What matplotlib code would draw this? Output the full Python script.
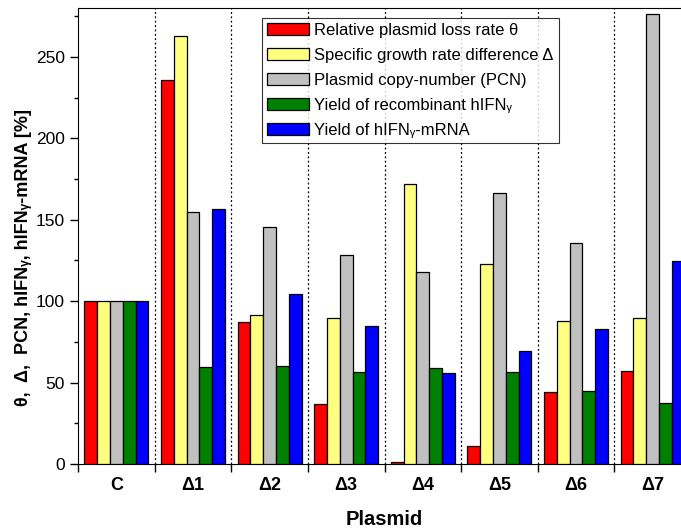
import numpy as np
import matplotlib
matplotlib.use("Agg")
import matplotlib.pyplot as plt
from matplotlib.ticker import MultipleLocator, FixedLocator

plt.rcParams["font.family"] = ["Liberation Sans", "DejaVu Sans"]

# данные
plasmids = ["C", "Δ1", "Δ2", "Δ3", "Δ4", "Δ5", "Δ6", "Δ7"]
loss_rate = [100, 236, 87, 36.6, 1.2, 11.3, 44.2, 57.3]
growth_diff = [100, 263, 91.3, 89.9, 171.8, 122.8, 88, 89.5]
pcn = [100, 155, 145.8, 128.3, 117.9, 166.5, 136, 276.5]
yield_ifn = [100, 59.8, 60.2, 56.7, 59, 56.7, 45, 37.5]
yield_mrna = [100, 156.8, 104.4, 85, 55.7, 69.4, 82.9, 124.9]

series = [
    (loss_rate, "#FF0000", "Relative plasmid loss rate θ"),
    (growth_diff, "#FFFF80", "Specific growth rate difference Δ"),
    (pcn, "#C0C0C0", "Plasmid copy-number (PCN)"),
    (yield_ifn, "#008000", "Yield of recombinant hIFNᵧ"),
    (yield_mrna, "#0000FF", "Yield of hIFNᵧ-mRNA"),
]

fig = plt.figure(figsize=(6.81, 5.31), dpi=100)
ax = fig.add_axes([78 / 681, 67 / 531, (691 - 78) / 681, 456 / 531])

x = np.arange(len(plasmids))
w = 0.167
for i, (vals, col, lab) in enumerate(series):
    ax.bar(x + (i - 2) * w, vals, w, color=col, edgecolor="black", linewidth=0.9, label=lab, zorder=3)

for b in np.arange(0.5, len(plasmids) - 0.5):
    ax.axvline(b, color="black", ls=(0, (1.5, 2)), lw=0.9, zorder=1)

ax.set_xlim(-0.5, len(plasmids) - 0.5)
ax.set_ylim(0, 280)
ax.yaxis.set_minor_locator(MultipleLocator(25))
ax.set_yticks([0, 50, 100, 150, 200, 250])
ax.xaxis.set_major_locator(FixedLocator(np.arange(-0.5, len(plasmids))))
ax.xaxis.set_major_formatter(plt.NullFormatter())
ax.set_xticks(x, minor=True)
ax.set_xticklabels(plasmids, minor=True, fontsize=13, fontweight="bold")
ax.tick_params(axis="x", which="major", direction="out", length=6, width=1)
ax.tick_params(axis="x", which="minor", length=0, pad=9)
ax.tick_params(axis="y", which="major", direction="out", length=6, width=1, labelsize=12.5)
ax.tick_params(axis="y", which="minor", direction="out", length=3, width=1)
ax.spines["right"].set_visible(False)

ax.set_xlabel("Plasmid", fontsize=14.5, fontweight="bold", labelpad=12)
ax.set_ylabel("θ,  Δ,  PCN, hIFNᵧ, hIFNᵧ-mRNA [%]", fontsize=13, fontweight="bold")
ax.yaxis.set_label_coords(-0.075, 0.452)

leg = ax.legend(loc="upper left", bbox_to_anchor=((262 - 78) / 613, (464 - 18) / 456),
                fontsize=12, frameon=True, fancybox=False, edgecolor="black",
                handlelength=2.5, handleheight=0.75, borderpad=0.3, labelspacing=0.6,
                handletextpad=0.35, borderaxespad=0)
leg.get_frame().set_linewidth(0.8)

fig.savefig("out.png", dpi=100)
